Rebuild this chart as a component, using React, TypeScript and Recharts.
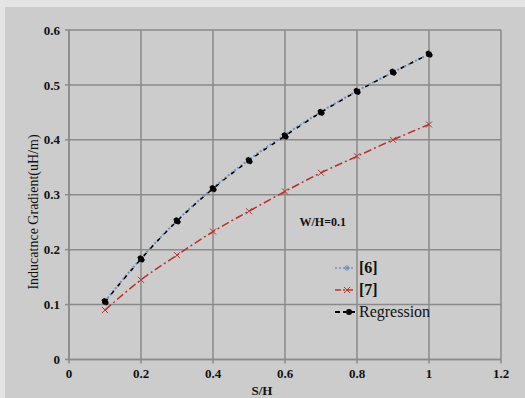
import React from 'react';
import { LineChart, Line, XAxis, YAxis, CartesianGrid, ReferenceDot } from 'recharts';

// values
const sh = [0.1, 0.2, 0.3, 0.4, 0.5, 0.6, 0.7, 0.8, 0.9, 1.0];
const ref6 = [0.106, 0.184, 0.253, 0.312, 0.364, 0.409, 0.451, 0.489, 0.523, 0.556];
const ref7 = [0.09, 0.145, 0.19, 0.233, 0.27, 0.306, 0.34, 0.37, 0.4, 0.428];
const regression = [0.105, 0.183, 0.252, 0.311, 0.362, 0.407, 0.45, 0.488, 0.523, 0.556];
const xTicks = [0, 0.2, 0.4, 0.6, 0.8, 1, 1.2];
const yTicks = [0, 0.1, 0.2, 0.3, 0.4, 0.5, 0.6];

const data = sh.map((x, i) => ({ x, ref6: ref6[i], ref7: ref7[i], regression: regression[i] }));

const FONT = '"Liberation Serif", "DejaVu Serif", serif';
const BLUE = '#6f8cbf';
const RED = '#b8322c';

const Star = (props: any) => {
  const { cx, cy } = props;
  if (cx == null || cy == null) return null;
  const r = 3;
  return (
    <g stroke={BLUE} strokeWidth={1}>
      <line x1={cx - r} y1={cy} x2={cx + r} y2={cy} />
      <line x1={cx} y1={cy - r} x2={cx} y2={cy + r} />
      <line x1={cx - r * 0.7} y1={cy - r * 0.7} x2={cx + r * 0.7} y2={cy + r * 0.7} />
      <line x1={cx - r * 0.7} y1={cy + r * 0.7} x2={cx + r * 0.7} y2={cy - r * 0.7} />
    </g>
  );
};

const Cross = (props: any) => {
  const { cx, cy } = props;
  if (cx == null || cy == null) return null;
  const r = 3;
  return (
    <g stroke={RED} strokeWidth={1}>
      <line x1={cx - r} y1={cy - r} x2={cx + r} y2={cy + r} />
      <line x1={cx - r} y1={cy + r} x2={cx + r} y2={cy - r} />
    </g>
  );
};

const legendItems = [
  { label: '[6]', bold: true, color: BLUE, dash: '2 2', mark: 'star' },
  { label: '[7]', bold: true, color: RED, dash: '6 2 2 2', mark: 'cross' },
  { label: 'Regression', bold: false, color: '#000', dash: '5 3', mark: 'dot' },
];

const LegendBox = () => (
  <div style={{ position: 'absolute', left: 335, top: 257, fontFamily: FONT, fontSize: 16, color: '#111' }}>
    {legendItems.map((it) => (
      <div key={it.label} style={{ display: 'flex', alignItems: 'center', height: 22 }}>
        <svg width={24} height={10}>
          <line x1={0} y1={5} x2={20} y2={5} stroke={it.color} strokeWidth={it.mark === 'dot' ? 2 : 1.5} strokeDasharray={it.dash} />
          {it.mark === 'star' && <Star cx={12} cy={5} />}
          {it.mark === 'cross' && <Cross cx={12} cy={5} />}
          {it.mark === 'dot' && <circle cx={14} cy={5} r={3} fill="#000" />}
        </svg>
        <span style={{ fontFamily: FONT, fontWeight: it.bold ? 'bold' : 'normal' }}>{it.label}</span>
      </div>
    ))}
  </div>
);

export default function App() {
  return (
    <div style={{ position: 'absolute', left: 0, top: 0, width: 525, height: 398, background: '#e4e4e4' }}>
      <div style={{ position: 'absolute', left: 5, top: 7, width: 520, height: 391, background: '#cccccc' }} />
      <div style={{ position: 'absolute', left: 0, top: 0 }}>
        <LineChart width={525} height={398} data={data} margin={{ top: 30, right: 24, bottom: 0, left: 0 }}>
          <CartesianGrid stroke="#8a8a8a" strokeWidth={1.5} horizontalValues={yTicks} verticalValues={xTicks} />
          <XAxis
            dataKey="x"
            type="number"
            domain={[0, 1.2]}
            ticks={xTicks}
            height={38.5}
            stroke="#8a8a8a"
            strokeWidth={1.5}
            tickSize={4}
            tickMargin={5}
            tick={{ fill: '#111', fontFamily: FONT, fontSize: 13, fontWeight: 'bold' }}
            label={{ value: 'S/H', position: 'insideBottom', offset: 3, dx: -23, fill: '#111', fontFamily: FONT, fontSize: 13, fontWeight: 'bold' }}
          />
          <YAxis
            type="number"
            domain={[0, 0.6]}
            ticks={yTicks}
            width={69}
            stroke="#8a8a8a"
            strokeWidth={1.5}
            tickSize={4}
            tickMargin={5}
            tick={{ fill: '#111', fontFamily: FONT, fontSize: 13, fontWeight: 'bold' }}
            label={{
              content: () => (
                <text x={33} y={212} transform="rotate(-90 33 212)" textAnchor="middle" dominantBaseline="central" fill="#111" fontFamily={FONT} fontSize={14}>
                  Inducatnce Gradient(uH/m)
                </text>
              ),
            }}
          />
          <ReferenceDot
            x={0.705}
            y={0.25}
            r={0}
            fill="none"
            stroke="none"
            label={{ value: 'W/H=0.1', position: 'center', fill: '#111', fontFamily: FONT, fontSize: 12, fontWeight: 'bold' }}
          />
          <Line type="monotone" dataKey="ref7" stroke={RED} strokeWidth={1.5} strokeDasharray="8 3 2 3" dot={<Cross />} isAnimationActive={false} />
          <Line type="monotone" dataKey="ref6" stroke={BLUE} strokeWidth={2} strokeDasharray="2 2" dot={<Star />} isAnimationActive={false} />
          <Line type="monotone" dataKey="regression" stroke="#000" strokeWidth={1.5} strokeDasharray="4 6" dot={{ r: 3, fill: '#000', stroke: '#000' }} isAnimationActive={false} />
        </LineChart>
      </div>
      <LegendBox />
    </div>
  );
}
